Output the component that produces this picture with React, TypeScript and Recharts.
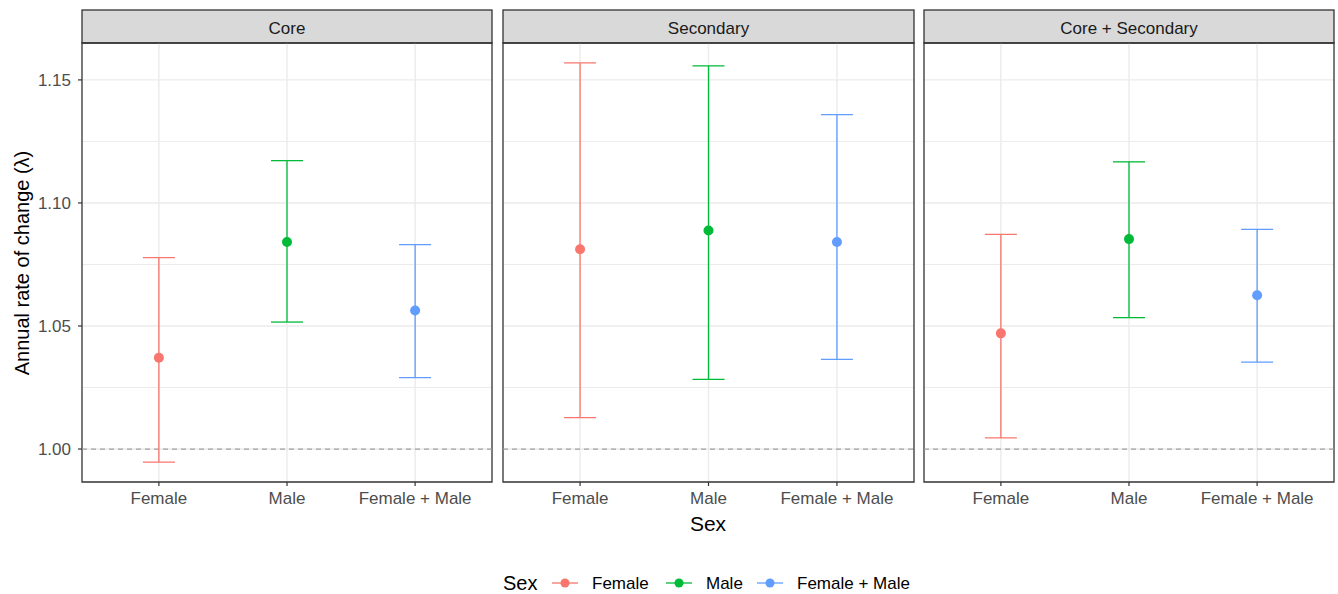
import {
  CartesianGrid,
  ErrorBar,
  ReferenceArea,
  ReferenceLine,
  Scatter,
  ScatterChart,
  XAxis,
  YAxis,
} from "recharts"

const SEX = ["Female", "Male", "Female + Male"]
const SEX_COLORS = ["#F8766D", "#00BA38", "#619CFF"]
const AREAS = ["Core", "Secondary", "Core + Secondary"]

// lambda estimate with lower / upper CI, one value per sex (SEX order)
const CORE_LAMBDA = [1.0371, 1.0841, 1.0563]
const CORE_LOWER = [0.9947, 1.0516, 1.029]
const CORE_UPPER = [1.0778, 1.1172, 1.0831]

const SECONDARY_LAMBDA = [1.0812, 1.0888, 1.0841]
const SECONDARY_LOWER = [1.0128, 1.0283, 1.0364]
const SECONDARY_UPPER = [1.1569, 1.1557, 1.1359]

const BOTH_LAMBDA = [1.047, 1.0853, 1.0625]
const BOTH_LOWER = [1.0045, 1.0534, 1.0353]
const BOTH_UPPER = [1.0872, 1.1167, 1.0893]

const Y_TICKS = [1.0, 1.05, 1.1, 1.15]
const Y_MINOR = [1.025, 1.075, 1.125]
const Y_DOMAIN: [number, number] = [0.9866, 1.165]
const X_DOMAIN: [number, number] = [0.4, 3.6]

const FONT = "'Liberation Sans', Arial, sans-serif"
const BORDER = "#333333"
const GRID = "#EBEBEB"
const TICK_TEXT = { fill: "#4D4D4D", fontSize: 17, fontFamily: FONT }

// panel geometry (plot area)
const PANEL_LEFT = [82, 503, 924]
const PANEL_W = [410, 411, 410]
const PLOT_TOP = 43
const PLOT_H = 439
const STRIP_TOP = 10
const Y_AXIS_W = 70

function Panel({
  index,
  lambda,
  lower,
  upper,
}: {
  index: number
  lambda: number[]
  lower: number[]
  upper: number[]
}) {
  const showY = index === 0
  const left = PANEL_LEFT[index]
  const w = PANEL_W[index]
  const padL = showY ? Y_AXIS_W : 5
  return (
    <div style={{ position: "absolute", left: left - padL, top: PLOT_TOP - 3 }}>
      <ScatterChart
        width={padL + w + 5}
        height={3 + PLOT_H + 40}
        margin={{ top: 3, right: 5, bottom: 0, left: showY ? 0 : 5 }}
      >
        <CartesianGrid
          stroke={GRID}
          strokeWidth={1}
          vertical={false}
          horizontalValues={Y_MINOR}
        />
        <CartesianGrid
          stroke={GRID}
          strokeWidth={1.4}
          horizontalValues={Y_TICKS}
          verticalValues={[1, 2, 3]}
        />
        <XAxis
          type="number"
          dataKey="x"
          domain={X_DOMAIN}
          ticks={[1, 2, 3]}
          tickFormatter={(v: number) => SEX[v - 1]}
          allowDataOverflow
          axisLine={false}
          tickLine={{ stroke: BORDER, strokeWidth: 1.2 }}
          tickSize={4}
          tickMargin={6}
          height={40}
          tick={TICK_TEXT}
          interval={0}
        />
        <YAxis
          type="number"
          dataKey="y"
          domain={Y_DOMAIN}
          ticks={Y_TICKS}
          allowDataOverflow
          hide={!showY}
          width={Y_AXIS_W}
          axisLine={false}
          tickLine={{ stroke: BORDER, strokeWidth: 1.2 }}
          tickSize={4}
          tickMargin={7}
          tick={TICK_TEXT}
          tickFormatter={(v: number) => v.toFixed(2)}
        />
        <ReferenceLine
          y={1}
          stroke="#A0A0A0"
          strokeWidth={1.3}
          strokeDasharray="5 4"
        />
        {SEX.map((s, i) => (
          <Scatter
            key={s}
            name={s}
            data={[
              {
                x: i + 1,
                y: lambda[i],
                ci: [lambda[i] - lower[i], upper[i] - lambda[i]],
              },
            ]}
            fill={SEX_COLORS[i]}
            isAnimationActive={false}
            shape={(p: { cx?: number; cy?: number }) => (
              <circle cx={p.cx} cy={p.cy} r={5} fill={SEX_COLORS[i]} />
            )}
          >
            <ErrorBar
              dataKey="ci"
              direction="y"
              width={16}
              stroke={SEX_COLORS[i]}
              strokeWidth={1.3}
              isAnimationActive={false}
            />
          </Scatter>
        ))}
        {/* panel border */}
        <ReferenceArea
          x1={X_DOMAIN[0]}
          x2={X_DOMAIN[1]}
          y1={Y_DOMAIN[0]}
          y2={Y_DOMAIN[1]}
          fill="none"
          stroke={BORDER}
          strokeWidth={1.3}
          ifOverflow="visible"
        />
      </ScatterChart>
    </div>
  )
}

function Decorations() {
  // legend key x centres and label starts
  const keyX = [565, 679, 770]
  const labelX = [592, 706, 797]
  return (
    <svg
      width={1338}
      height={594}
      style={{ position: "absolute", left: 0, top: 0 }}
      fontFamily={FONT}
    >
      {AREAS.map((a, i) => (
        <g key={a}>
          <rect
            x={PANEL_LEFT[i]}
            y={STRIP_TOP}
            width={PANEL_W[i]}
            height={PLOT_TOP - STRIP_TOP}
            fill="#D9D9D9"
            stroke={BORDER}
            strokeWidth={1.3}
          />
          <text
            x={PANEL_LEFT[i] + PANEL_W[i] / 2}
            y={STRIP_TOP + 24}
            textAnchor="middle"
            fontSize={17}
            fill="#1A1A1A"
          >
            {a}
          </text>
        </g>
      ))}
      <text
        transform="translate(29, 263) rotate(-90)"
        textAnchor="middle"
        fontSize={20}
        fill="#000"
      >
        Annual rate of change (λ)
      </text>
      <text x={708} y={531} textAnchor="middle" fontSize={21} fill="#000">
        Sex
      </text>
      <text x={503} y={590} fontSize={20} fill="#000">
        Sex
      </text>
      {SEX.map((s, i) => (
        <g key={s}>
          <line
            x1={keyX[i] - 13}
            x2={keyX[i] + 13}
            y1={583}
            y2={583}
            stroke={SEX_COLORS[i]}
            strokeWidth={1.3}
          />
          <circle cx={keyX[i]} cy={583} r={4.5} fill={SEX_COLORS[i]} />
          <text x={labelX[i]} y={589} fontSize={17} fill="#000">
            {s}
          </text>
        </g>
      ))}
    </svg>
  )
}

export default function App() {
  return (
    <div
      style={{
        position: "absolute",
        left: 0,
        top: 0,
        width: 1338,
        height: 594,
        background: "#fff",
        fontFamily: FONT,
      }}
    >
      <Decorations />
      <Panel index={0} lambda={CORE_LAMBDA} lower={CORE_LOWER} upper={CORE_UPPER} />
      <Panel
        index={1}
        lambda={SECONDARY_LAMBDA}
        lower={SECONDARY_LOWER}
        upper={SECONDARY_UPPER}
      />
      <Panel index={2} lambda={BOTH_LAMBDA} lower={BOTH_LOWER} upper={BOTH_UPPER} />
    </div>
  )
}
